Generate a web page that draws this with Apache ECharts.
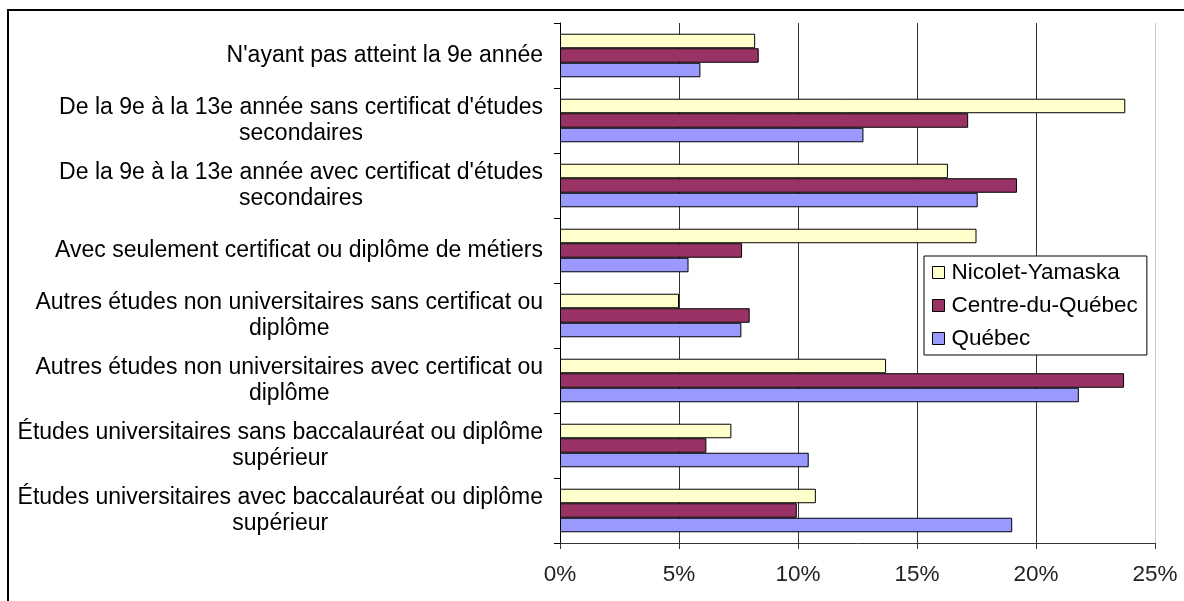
<!DOCTYPE html>
<html>
<head>
<meta charset="utf-8">
<script src="https://cdn.jsdelivr.net/npm/echarts@6/dist/echarts.min.js"></script>
<style>
html,body{margin:0;padding:0;background:#fff;}
#chart{width:1184px;height:601px;}
</style>
</head>
<body>
<div id="chart"></div>
<script>
var categories = [
  "N'ayant pas atteint la 9e année",
  "De la 9e à la 13e année sans certificat d'études\nsecondaires",
  "De la 9e à la 13e année avec certificat d'études\nsecondaires",
  "Avec seulement certificat ou diplôme de métiers",
  "Autres études non universitaires sans certificat ou\ndiplôme",
  "Autres études non universitaires avec certificat ou\ndiplôme",
  "Études universitaires sans baccalauréat ou diplôme\nsupérieur",
  "Études universitaires avec baccalauréat ou diplôme\nsupérieur"
];
var seriesNames = ["Nicolet-Yamaska", "Centre-du-Québec", "Québec"];
var nicoletYamaska = [8.2, 23.75, 16.3, 17.5, 5.0, 13.7, 7.2, 10.75];
var centreDuQuebec = [8.35, 17.15, 19.2, 7.65, 7.97, 23.7, 6.15, 9.95];
var quebec = [5.9, 12.75, 17.55, 5.4, 7.62, 21.8, 10.45, 19.0];
var xTicks = [0, 5, 10, 15, 20, 25];

var FONT = "'Liberation Sans', Arial, sans-serif";
var colors = ['#FFFFCC', '#993366', '#9999FF'];
var values = [nicoletYamaska, centreDuQuebec, quebec];

var chart = echarts.init(document.getElementById('chart'), null, {renderer: 'canvas'});
var option = {
  animation: false,
  backgroundColor: '#fff',
  textStyle: {fontFamily: FONT},
  grid: {left: 560, right: 29, top: 23, bottom: 58, containLabel: false},
  legend: {
    orient: 'vertical',
    left: 924, top: 256,
    data: seriesNames,
    icon: 'rect',
    itemWidth: 12, itemHeight: 12,
    itemGap: 10,
    padding: [5, 9, 5, 8],
    borderColor: '#000', borderWidth: 1,
    backgroundColor: '#fff',
    textStyle: {fontFamily: FONT, fontSize: 22.5, color: '#000', lineHeight: 22, padding: [0, 0, 0, 2]},
    itemStyle: {borderColor: '#000', borderWidth: 1}
  },
  xAxis: {
    type: 'value',
    min: xTicks[0], max: xTicks[xTicks.length - 1], interval: 5,
    axisLine: {show: true, lineStyle: {color: '#333', width: 1}},
    axisTick: {show: true, length: 6, lineStyle: {color: '#333'}},
    axisLabel: {
      formatter: function (v) { return v + '%'; },
      fontFamily: FONT, fontSize: 22.5, color: '#222', margin: 20
    },
    splitLine: {show: true, lineStyle: {color: ['#333', '#333', '#333', '#333', '#333', '#c8c8c8'], width: 1}}
  },
  yAxis: {
    type: 'category',
    inverse: true,
    data: categories,
    axisLine: {show: true, lineStyle: {color: '#000', width: 1}},
    axisTick: {show: true, length: 6, lineStyle: {color: '#000'}},
    axisLabel: {
      margin: 17,
      formatter: function (v) {
        return v.split('\n').map(function (s) { return '{c|' + s + '}'; }).join('\n');
      },
      rich: {
        c: {align: 'center', fontFamily: FONT, fontSize: 23, color: '#000', lineHeight: 26}
      }
    }
  },
  series: seriesNames.map(function (name, i) {
    return {
      name: name,
      type: 'bar',
      data: values[i],
      barGap: '0%',
      barCategoryGap: '33%',
      itemStyle: {color: colors[i], borderColor: '#000', borderWidth: 1}
    };
  }),
  graphic: [{
    type: 'rect',
    shape: {x: 8, y: 10, width: 1400, height: 800},
    style: {fill: 'none', stroke: '#000', lineWidth: 2},
    silent: true, z: 100
  }]
};
chart.setOption(option);
</script>
</body>
</html>
